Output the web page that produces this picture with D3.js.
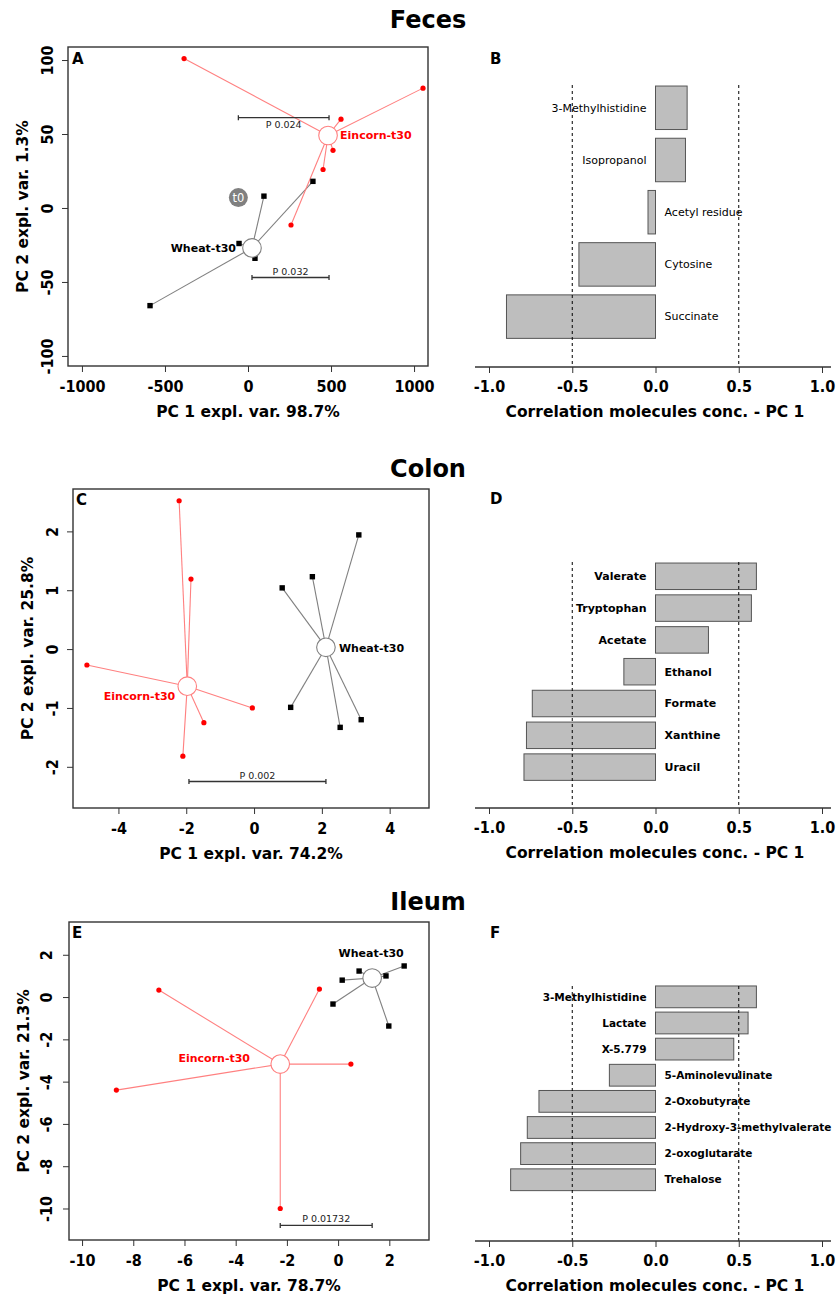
<!DOCTYPE html>
<html>
<head>
<meta charset="utf-8">
<script src="https://cdn.jsdelivr.net/npm/d3@7"></script>
<style>
  body { margin: 0; background: #fff; }
  svg { display: block; font-family: "DejaVu Sans", Verdana, sans-serif; }
  .tick text { font-family: "DejaVu Sans Condensed", "DejaVu Sans", sans-serif; font-weight: bold; font-size: 16px; fill: #000; }
  .tick line { stroke: #333; }
  .axis-title { font-family: "DejaVu Sans", sans-serif; font-weight: bold; font-size: 15.5px; }
</style>
</head>
<body>
<svg id="fig" width="837" height="1298"></svg>
<script>
/* ---- data ---- */

// Feces (A, B)
const fecesEincorn = [[-385, 101], [1054, 81], [560, 60], [512, 39], [452, 26], [259, -11.5]];
const fecesEincornCentre = [482, 49];
const fecesWheat = [[391, 18], [96, 8], [-54, -24], [0, -30], [42, -34], [-590, -66]];
const fecesWheatCentre = [24, -27];
const fecesT0 = [-58, 7];
const fecesPvals = [["P 0.024", -58, 488, 61], ["P 0.032", 24, 488, -47]];
const fecesXTicks = [-1000, -500, 0, 500, 1000];
const fecesYTicks = [-100, -50, 0, 50, 100];
const fecesMolecules = ["3-Methylhistidine", "Isopropanol", "Acetyl residue", "Cytosine", "Succinate"];
const fecesCorr = [0.19, 0.18, -0.045, -0.46, -0.895];

// Colon (C, D)
const colonEincorn = [[-2.21, 2.52], [-1.86, 1.19], [-4.93, -0.27], [-0.05, -1.0], [-1.48, -1.25], [-2.1, -1.82]];
const colonEincornCentre = [-1.97, -0.63];
const colonWheat = [[3.09, 1.94], [1.72, 1.23], [0.83, 1.04], [1.08, -0.99], [3.16, -1.2], [2.54, -1.33]];
const colonWheatCentre = [2.12, 0.03];
const colonPvals = [["P 0.002", -1.92, 2.12, -2.25]];
const colonXTicks = [-4, -2, 0, 2, 4];
const colonYTicks = [-2, -1, 0, 1, 2];
const colonMolecules = ["Valerate", "Tryptophan", "Acetate", "Ethanol", "Formate", "Xanthine", "Uracil"];
const colonCorr = [0.606, 0.576, 0.318, -0.19, -0.74, -0.775, -0.79];

// Ileum (E, F)
const ileumEincorn = [[-7.0, 0.33], [-0.73, 0.38], [0.5, -3.17], [-8.66, -4.4], [-2.26, -10.0]];
const ileumEincornCentre = [-2.26, -3.17];
const ileumWheat = [[0.82, 1.23], [0.16, 0.8], [-0.2, -0.33], [1.87, 1.0], [2.58, 1.47], [1.98, -1.37]];
const ileumWheatCentre = [1.33, 0.9];
const ileumPvals = [["P 0.01732", -2.26, 1.33, -10.8]];
const ileumXTicks = [-10, -8, -6, -4, -2, 0, 2];
const ileumYTicks = [-10, -8, -6, -4, -2, 0, 2];
const ileumMolecules = ["3-Methylhistidine", "Lactate", "X-5.779", "5-Aminolevulinate", "2-Oxobutyrate",
  "2-Hydroxy-3-methylvalerate", "2-oxoglutarate", "Trehalose"];
const ileumCorr = [0.606, 0.556, 0.47, -0.277, -0.70, -0.77, -0.81, -0.87];

const corrTicks = [-1, -0.5, 0, 0.5, 1];
const corrLines = [-0.5, 0.5];

/* ---- colours ---- */
const RED = "#ff0000", PINK = "#ff8080", GREY = "#808080", DARK = "#333";

const svg = d3.select("#fig");

function title(txt, y) {
  svg.append("text").attr("x", 428).attr("y", y).attr("text-anchor", "middle")
    .attr("font-weight", "bold").attr("font-size", "24px").text(txt);
}

function panelLetter(txt, x, y) {
  svg.append("text").attr("x", x).attr("y", y).attr("font-weight", "bold")
    .attr("font-size", "15px").text(txt);
}

function drawPCA(o) {
  const [L, T, R, B] = o.box;
  const x = d3.scaleLinear().domain(o.xDomain).range([L, R]);
  const y = d3.scaleLinear().domain(o.yDomain).range([B, T]);
  const g = svg.append("g");

  // axes
  const xa = g.append("g").attr("transform", `translate(0,${B})`)
    .call(d3.axisBottom(x).tickValues(o.xTicks).tickFormat(d => String(d)).tickSize(6));
  xa.select(".domain").remove();
  xa.selectAll("text").attr("dy", null).attr("y", 26);

  const ya = g.append("g").attr("transform", `translate(${L},0)`)
    .call(d3.axisLeft(y).tickValues(o.yTicks).tickFormat(d => String(d)).tickSize(6));
  ya.select(".domain").remove();
  ya.selectAll("text").attr("x", null).attr("dy", null)
    .attr("text-anchor", "middle").attr("transform", `translate(${-o.yLabOff},0) rotate(-90)`);

  g.append("text").attr("class", "axis-title").attr("x", (L + R) / 2).attr("y", B + 51)
    .attr("text-anchor", "middle").text(o.xTitle);
  g.append("text").attr("class", "axis-title").attr("text-anchor", "middle")
    .attr("transform", `translate(${o.yTitleX},${(T + B) / 2}) rotate(-90)`).text(o.yTitle);

  // spokes
  const spokes = (pts, c, col) => g.append("g").selectAll("line").data(pts).join("line")
    .attr("x1", x(c[0])).attr("y1", y(c[1]))
    .attr("x2", d => x(d[0])).attr("y2", d => y(d[1]))
    .attr("stroke", col).attr("stroke-width", 1.1);
  spokes(o.wheat, o.wheatC, GREY);
  spokes(o.einkorn, o.einkornC, PINK);

  g.append("g").selectAll("rect").data(o.wheat).join("rect")
    .attr("x", d => x(d[0]) - 2.7).attr("y", d => y(d[1]) - 2.7)
    .attr("width", 5.4).attr("height", 5.4).attr("fill", "#000");
  g.append("g").selectAll("circle").data(o.einkorn).join("circle")
    .attr("cx", d => x(d[0])).attr("cy", d => y(d[1])).attr("r", 2.6).attr("fill", RED);

  g.append("circle").attr("cx", x(o.wheatC[0])).attr("cy", y(o.wheatC[1])).attr("r", 9.3)
    .attr("fill", "#fff").attr("stroke", GREY).attr("stroke-width", 1.1);
  g.append("circle").attr("cx", x(o.einkornC[0])).attr("cy", y(o.einkornC[1])).attr("r", 9.3)
    .attr("fill", "#fff").attr("stroke", PINK).attr("stroke-width", 1.1);

  // group labels
  g.append("text").attr("x", x(o.wheatC[0]) + o.wheatLab[0]).attr("y", y(o.wheatC[1]) + o.wheatLab[1])
    .attr("text-anchor", o.wheatLab[2]).attr("font-weight", "bold").attr("font-size", "11px")
    .text("Wheat-t30");
  g.append("text").attr("x", x(o.einkornC[0]) + o.einkornLab[0]).attr("y", y(o.einkornC[1]) + o.einkornLab[1])
    .attr("text-anchor", o.einkornLab[2]).attr("font-weight", "bold").attr("font-size", "11px")
    .attr("fill", RED).text("Eincorn-t30");

  // P value brackets
  o.pvals.forEach((p, i) => {
    const yy = y(p[3]), x1 = x(p[1]), x2 = x(p[2]);
    g.append("path").attr("d", `M${x1},${yy - 2.5}V${yy + 2.5}M${x1},${yy}H${x2}M${x2},${yy - 2.5}V${yy + 2.5}`)
      .attr("stroke", DARK).attr("stroke-width", 1.3).attr("fill", "none");
    g.append("text").attr("x", (x1 + x2) / 2).attr("y", yy + o.pOff[i])
      .attr("text-anchor", "middle").attr("font-size", "9.5px").attr("fill", "#222").text(p[0]);
  });

  if (o.t0) {
    g.append("circle").attr("cx", x(o.t0[0])).attr("cy", y(o.t0[1])).attr("r", 9.5).attr("fill", GREY);
    g.append("text").attr("x", x(o.t0[0])).attr("y", y(o.t0[1]) + 4).attr("text-anchor", "middle")
      .attr("fill", "#fff").attr("font-size", "11.5px").text("t0");
  }

  g.append("rect").attr("x", L).attr("y", T).attr("width", R - L).attr("height", B - T)
    .attr("fill", "none").attr("stroke", DARK).attr("stroke-width", 1.4);
}

function drawBars(o) {
  const x = d3.scaleLinear().domain([-1, 1]).range([489, 822]);
  const y = d3.scaleBand().domain(o.names).range(o.band).paddingInner(0.167).paddingOuter(0.083);
  const g = svg.append("g");
  const rows = o.names.map((n, i) => ({ name: n, v: o.values[i] }));

  g.append("g").selectAll("rect").data(rows).join("rect")
    .attr("x", d => x(Math.min(0, d.v))).attr("y", d => y(d.name))
    .attr("width", d => Math.abs(x(d.v) - x(0))).attr("height", y.bandwidth())
    .attr("fill", "#bebebe").attr("stroke", "#555").attr("stroke-width", 1);

  g.append("g").selectAll("text").data(rows).join("text")
    .attr("x", d => d.v > 0 ? x(0) - 9 : x(0) + 9)
    .attr("y", d => y(d.name) + y.bandwidth() / 2)
    .attr("dy", "0.35em")
    .attr("text-anchor", d => d.v > 0 ? "end" : "start")
    .attr("font-weight", o.bold ? "bold" : "normal").attr("font-size", o.fontSize)
    .text(d => d.name);

  g.append("g").selectAll("line").data(corrLines).join("line")
    .attr("x1", d => x(d)).attr("x2", d => x(d)).attr("y1", o.dashTop).attr("y2", o.axisY)
    .attr("stroke", "#000").attr("stroke-dasharray", "3,3").attr("stroke-width", 1);

  const xa = g.append("g").attr("transform", `translate(0,${o.axisY})`)
    .call(d3.axisBottom(x).tickValues(corrTicks).tickFormat(d => d.toFixed(1)).tickSize(6));
  xa.select(".domain").remove();
  xa.selectAll("text").attr("dy", null).attr("y", 25);
  g.append("line").attr("x1", 475).attr("x2", 831).attr("y1", o.axisY).attr("y2", o.axisY)
    .attr("stroke", DARK).attr("stroke-width", 1.4);

  g.append("text").attr("class", "axis-title").attr("x", 655).attr("y", o.axisY + 50)
    .attr("text-anchor", "middle").text("Correlation molecules conc. - PC 1");
}

/* ---- Feces ---- */
title("Feces", 28);
drawPCA({
  box: [68, 47, 428, 366], xDomain: [-1084, 1084], yDomain: [-106.8, 108.8],
  xTicks: fecesXTicks, yTicks: fecesYTicks, yLabOff: 15, yTitleX: 28,
  xTitle: "PC 1 expl. var. 98.7%", yTitle: "PC 2 expl. var. 1.3%",
  einkorn: fecesEincorn, einkornC: fecesEincornCentre, wheat: fecesWheat, wheatC: fecesWheatCentre,
  wheatLab: [-16, 4, "end"], einkornLab: [12, 4, "start"],
  pvals: fecesPvals, pOff: [10, -3], t0: fecesT0
});
panelLetter("A", 72, 64);
drawBars({ names: fecesMolecules, values: fecesCorr, band: [81.7, 342.7], axisY: 367, dashTop: 85,
  bold: false, fontSize: "11px" });
panelLetter("B", 490, 64);

/* ---- Colon ---- */
title("Colon", 477);
drawPCA({
  box: [73, 489, 429, 808], xDomain: [-5.34, 5.16], yDomain: [-2.70, 2.72],
  xTicks: colonXTicks, yTicks: colonYTicks, yLabOff: 15, yTitleX: 33,
  xTitle: "PC 1 expl. var. 74.2%", yTitle: "PC 2 expl. var. 25.8%",
  einkorn: colonEincorn, einkornC: colonEincornCentre, wheat: colonWheat, wheatC: colonWheatCentre,
  wheatLab: [13, 5, "start"], einkornLab: [-12, 14, "end"],
  pvals: colonPvals, pOff: [-3]
});
panelLetter("C", 76, 505);
drawBars({ names: colonMolecules, values: colonCorr, band: [560.4, 783], axisY: 808, dashTop: 562,
  bold: true, fontSize: "11px" });
panelLetter("D", 490, 504);

/* ---- Ileum ---- */
title("Ileum", 910);
drawPCA({
  box: [69, 922, 429, 1240], xDomain: [-10.51, 3.55], yDomain: [-11.49, 3.55],
  xTicks: ileumXTicks, yTicks: ileumYTicks, yLabOff: 17, yTitleX: 29,
  xTitle: "PC 1 expl. var. 78.7%", yTitle: "PC 2 expl. var. 21.3%",
  einkorn: ileumEincorn, einkornC: ileumEincornCentre, wheat: ileumWheat, wheatC: ileumWheatCentre,
  wheatLab: [-1, -21, "middle"], einkornLab: [-66, -2, "middle"],
  pvals: ileumPvals, pOff: [-3]
});
panelLetter("E", 72, 938);
// 10.5px keeps the longest label inside the page edge
drawBars({ names: ileumMolecules, values: ileumCorr, band: [983.8, 1192.8], axisY: 1241, dashTop: 986,
  bold: true, fontSize: "10.5px" });
panelLetter("F", 490, 938);
</script>
</body>
</html>
